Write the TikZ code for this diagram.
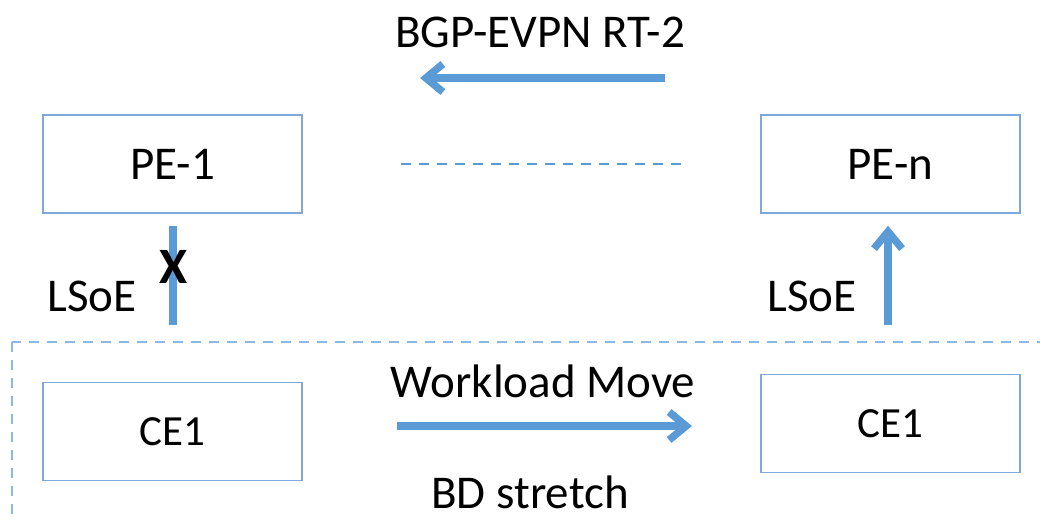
\documentclass[tikz,border=0pt]{standalone}
\usepackage{fontspec}
\setmainfont{Carlito}
\usetikzlibrary{arrows.meta}
\definecolor{boxblue}{HTML}{7FA9DB}
\definecolor{arrowblue}{HTML}{5B9BD5}
\begin{document}
\begin{tikzpicture}
		[x=1pt,y=-1pt,font=\fontsize{47}{54}\selectfont,
		 box/.style={rectangle,draw=boxblue,line width=1.5pt,minimum width=259pt,minimum height=98pt,inner sep=0pt},
		 fat/.style={draw=arrowblue,line width=7.5pt},
		 fatarrow/.style={fat,-{Straight Barb[length=17pt,width=28pt]}},
		 thinlink/.style={draw=arrowblue,line width=2.5pt,dash pattern=on 10pt off 8pt}]
		\useasboundingbox (0,0) rectangle (1040,521);
		\clip (0,0) rectangle (1040,521);
		\node (PEone) [box] at (172.5,164) {PE-1};
		\node (PEn) [box] at (890.5,164) {PE-n};
		\node (CEone) [box,font=\fontsize{43}{50}\selectfont] at (172.5,431.5) {CE1};
		\node (CEtwo) [box,font=\fontsize{43}{50}\selectfont] at (890.5,423.5) {CE1};
		\draw[draw=arrowblue!70,line width=1.5pt,dash pattern=on 10pt off 8pt] (12,342) rectangle (1070,521.5);
		\node (Bgp) at (540,32) {BGP-EVPN RT-2};
		\coordinate (BgpFrom) at (665,78);
		\coordinate (BgpTo) at (420,78);
		\draw[fatarrow] (BgpFrom) -- (BgpTo);
		\draw[thinlink,shorten <=98pt,shorten >=74pt] (PEone) -- (PEn);
		\coordinate (LinkL) at (173,325);
		\coordinate (LinkR) at (888,325);
		\draw[fat,shorten >=12pt] (LinkL) -- (LinkL |- PEone.south);
		\draw[fatarrow,shorten >=12pt] (LinkR) -- (LinkR |- PEn.south);
		\node (Cut) [font=\fontsize{51}{58}\selectfont\bfseries] at (174,267) {X};
		\node (LsoeL) at (92,296) {LSoE};
		\node (LsoeR) at (812,296) {LSoE};
		\node (Move) at (543,381) {Workload Move};
		\coordinate (MoveFrom) at (397,426);
		\coordinate (MoveTo) at (692,426);
		\draw[fatarrow] (MoveFrom) -- (MoveTo);
		\node (Stretch) at (530,492) {BD stretch};
	\end{tikzpicture}
\end{document}
